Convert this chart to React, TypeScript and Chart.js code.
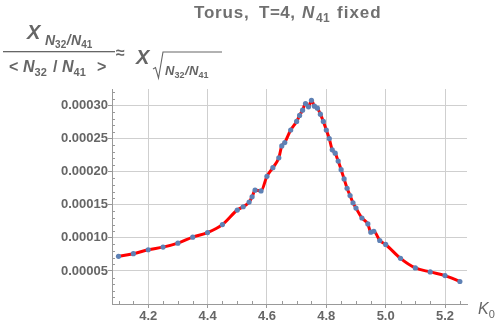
import React, { useEffect, useRef } from "react";
import { Chart, registerables } from "chart.js";

Chart.register(...registerables);

const K0: number[] = [
  4.1, 4.15, 4.2, 4.25, 4.3, 4.35, 4.4, 4.45, 4.5, 4.52, 4.54, 4.55, 4.56, 4.58,
  4.6, 4.62, 4.64, 4.65, 4.66, 4.68, 4.7, 4.71, 4.72, 4.73, 4.74, 4.75, 4.76,
  4.77, 4.78, 4.79, 4.8, 4.81, 4.82, 4.83, 4.84, 4.85, 4.86, 4.87, 4.88, 4.89,
  4.9, 4.92, 4.94, 4.95, 4.96, 4.98, 5.0, 5.05, 5.1, 5.15, 5.2, 5.25,
];

const CHI: number[] = [
  7.2e-5, 7.6e-5, 8.2e-5, 8.6e-5, 9.2e-5, 1.01e-4, 1.08e-4, 1.2e-4, 1.42e-4,
  1.47e-4, 1.54e-4, 1.62e-4, 1.72e-4, 1.71e-4, 1.93e-4, 2.06e-4, 2.21e-4,
  2.39e-4, 2.44e-4, 2.63e-4, 2.76e-4, 2.85e-4, 2.93e-4, 3.03e-4, 2.98e-4,
  3.08e-4, 2.99e-4, 2.96e-4, 2.87e-4, 2.76e-4, 2.63e-4, 2.5e-4, 2.33e-4,
  2.28e-4, 2.16e-4, 2.03e-4, 1.89e-4, 1.75e-4, 1.64e-4, 1.53e-4, 1.45e-4,
  1.3e-4, 1.21e-4, 1.085e-4, 1.1e-4, 9.6e-5, 9.0e-5, 6.9e-5, 5.45e-5, 4.85e-5,
  4.3e-5, 3.4e-5,
];

const X_TICKS: number[] = [4.2, 4.4, 4.6, 4.8, 5.0, 5.2];
const Y_TICKS: number[] = [0.00005, 0.0001, 0.00015, 0.0002, 0.00025, 0.0003];
const X_MINOR: number[] = [4.1, 4.15, 4.25, 4.3, 4.35, 4.45, 4.5, 4.55, 4.65, 4.7, 4.75, 4.85, 4.9, 4.95, 5.05, 5.1, 5.15, 5.25];
const Y_MINOR: number[] = [
  0.00001, 0.00002, 0.00003, 0.00004, 0.00006, 0.00007, 0.00008, 0.00009,
  0.00011, 0.00012, 0.00013, 0.00014, 0.00016, 0.00017, 0.00018, 0.00019,
  0.00021, 0.00022, 0.00023, 0.00024, 0.00026, 0.00027, 0.00028, 0.00029,
  0.00031, 0.00032,
];

const FONT = '"Liberation Sans", Arial, sans-serif';
const TXT = "#666666";

function put(
  ctx: CanvasRenderingContext2D,
  x: number,
  y: number,
  text: string,
  size: number,
  italic = false,
  bold = true,
  ls = 0
): number {
  ctx.font = `${italic ? "italic " : ""}${bold ? "bold " : ""}${size}px ${FONT}`;
  (ctx as any).letterSpacing = `${ls}px`;
  ctx.fillText(text, x, y);
  const w = ctx.measureText(text).width;
  (ctx as any).letterSpacing = "0px";
  return x + w;
}

const minorTicks = {
  id: "minorTicks",
  beforeDatasetsDraw(chart: any) {
    const { ctx, scales } = chart;
    const xs = scales.x;
    const ys = scales.y;
    ctx.save();
    ctx.strokeStyle = "#999999";
    ctx.lineWidth = 1;
    ctx.beginPath();
    for (const v of Y_MINOR) {
      const py = Math.round(ys.getPixelForValue(v)) + 0.5;
      ctx.moveTo(xs.left, py);
      ctx.lineTo(xs.left + 3, py);
    }
    for (const v of X_MINOR) {
      const px = Math.round(xs.getPixelForValue(v)) + 0.5;
      ctx.moveTo(px, ys.bottom);
      ctx.lineTo(px, ys.bottom - 3);
    }
    ctx.stroke();
    ctx.restore();
  },
};

const overlay = {
  id: "overlay",
  afterDraw(chart: any) {
    const ctx: CanvasRenderingContext2D = chart.ctx;
    ctx.save();
    ctx.textBaseline = "alphabetic";
    ctx.textAlign = "left";
    // Title
    ctx.fillStyle = "#707070";
    put(ctx, 194, 18, "Torus,", 17, false, true, 0.8);
    put(ctx, 259, 18, "T=4,", 17, false, true, 0.5);
    put(ctx, 302, 18, "N", 17, true, true, 0);
    put(ctx, 316, 22, "41", 12, false, true, 0.3);
    put(ctx, 337, 18, "fixed", 17, false, true, 1);

    // Formula, numerator
    ctx.fillStyle = TXT;
    put(ctx, 27, 39, "X", 20, true);
    let x = put(ctx, 45, 45, "N", 14, true);
    x = put(ctx, x, 48, "32", 10);
    x = put(ctx, x + 0.5, 45, "/", 14, true);
    x = put(ctx, x + 0.5, 45, "N", 14, true);
    put(ctx, x, 48, "41", 10);
    // fraction bar
    ctx.fillRect(3, 51, 112, 1.3);
    // denominator
    put(ctx, 9, 72, "<", 16);
    x = put(ctx, 23, 72, "N", 16, true);
    put(ctx, x, 76, "32", 11);
    put(ctx, 53, 72, "/", 16, false, true);
    x = put(ctx, 62, 72, "N", 16, true);
    put(ctx, x, 76, "41", 11);
    put(ctx, 97, 72, ">", 16);
    // approx
    put(ctx, 116, 58, "\u2248", 16);
    put(ctx, 136, 64, "X", 20, true);
    // radical
    ctx.strokeStyle = TXT;
    ctx.lineWidth = 1.1;
    ctx.beginPath();
    ctx.moveTo(153, 69);
    ctx.lineTo(155.5, 67.5);
    ctx.lineTo(158.5, 78);
    ctx.lineTo(163, 52);
    ctx.lineTo(222, 52);
    ctx.stroke();
    x = put(ctx, 165, 75, "N", 13, true);
    x = put(ctx, x, 77.5, "32", 9);
    x = put(ctx, x + 0.5, 75, "/", 13, true);
    x = put(ctx, x + 0.5, 75, "N", 13, true);
    put(ctx, x, 77.5, "41", 9);

    // x-axis label
    ctx.fillStyle = "#666666";
    x = put(ctx, 478, 314, "K", 16, true, false);
    put(ctx, x, 318, "0", 11, false, false);
    ctx.restore();
  },
};

export default function App() {
  const ref = useRef<HTMLCanvasElement | null>(null);

  useEffect(() => {
    if (!ref.current) return;
    const chart = new Chart(ref.current, {
      type: "line",
      data: {
        datasets: [
          {
            data: K0.map((k, i) => ({ x: k, y: CHI[i] })),
            borderColor: "#ff0000",
            borderWidth: 3,
            pointRadius: 2.6,
            pointBackgroundColor: "#5E81B5",
            pointBorderWidth: 0,
            cubicInterpolationMode: "monotone",
            fill: false,
          },
        ],
      },
      options: {
        responsive: false,
        animation: false,
        events: [],
        layout: { padding: { left: 0, top: 89, right: 33, bottom: 0 } },
        plugins: { legend: { display: false }, tooltip: { enabled: false }, title: { display: false } },
        scales: {
          x: {
            type: "linear",
            min: 4.078,
            max: 5.274,
            afterBuildTicks: (s: any) => {
              s.ticks = X_TICKS.map((v) => ({ value: v }));
            },
            afterFit: (s: any) => {
              s.height = 24;
            },
            ticks: {
              callback: (v: any) => Number(v).toFixed(1),
              font: { family: FONT, size: 13, weight: "bold" },
              color: TXT,
              padding: 1,
              maxRotation: 0,
              autoSkip: false,
            },
            grid: { color: "#cfcfcf", lineWidth: 1, tickLength: 4, tickColor: "#999999" },
            border: { color: "#999999", width: 1 },
          },
          y: {
            type: "linear",
            min: 0,
            max: 0.000325,
            afterBuildTicks: (s: any) => {
              s.ticks = Y_TICKS.map((v) => ({ value: v }));
            },
            afterFit: (s: any) => {
              s.width = 112;
            },
            ticks: {
              callback: (v: any) => Number(v).toFixed(5),
              font: { family: FONT, size: 13, weight: "bold" },
              color: TXT,
              padding: 0,
              autoSkip: false,
            },
            grid: { color: "#cfcfcf", lineWidth: 1, tickLength: 4, tickColor: "#999999" },
            border: { color: "#999999", width: 1 },
          },
        },
      },
      plugins: [minorTicks, overlay],
    } as any);
    return () => chart.destroy();
  }, []);

  return (
    <div style={{ position: "fixed", left: 0, top: 0, width: 500, height: 328, background: "#fff" }}>
      <canvas ref={ref} width={500} height={328} style={{ display: "block" }} />
    </div>
  );
}
